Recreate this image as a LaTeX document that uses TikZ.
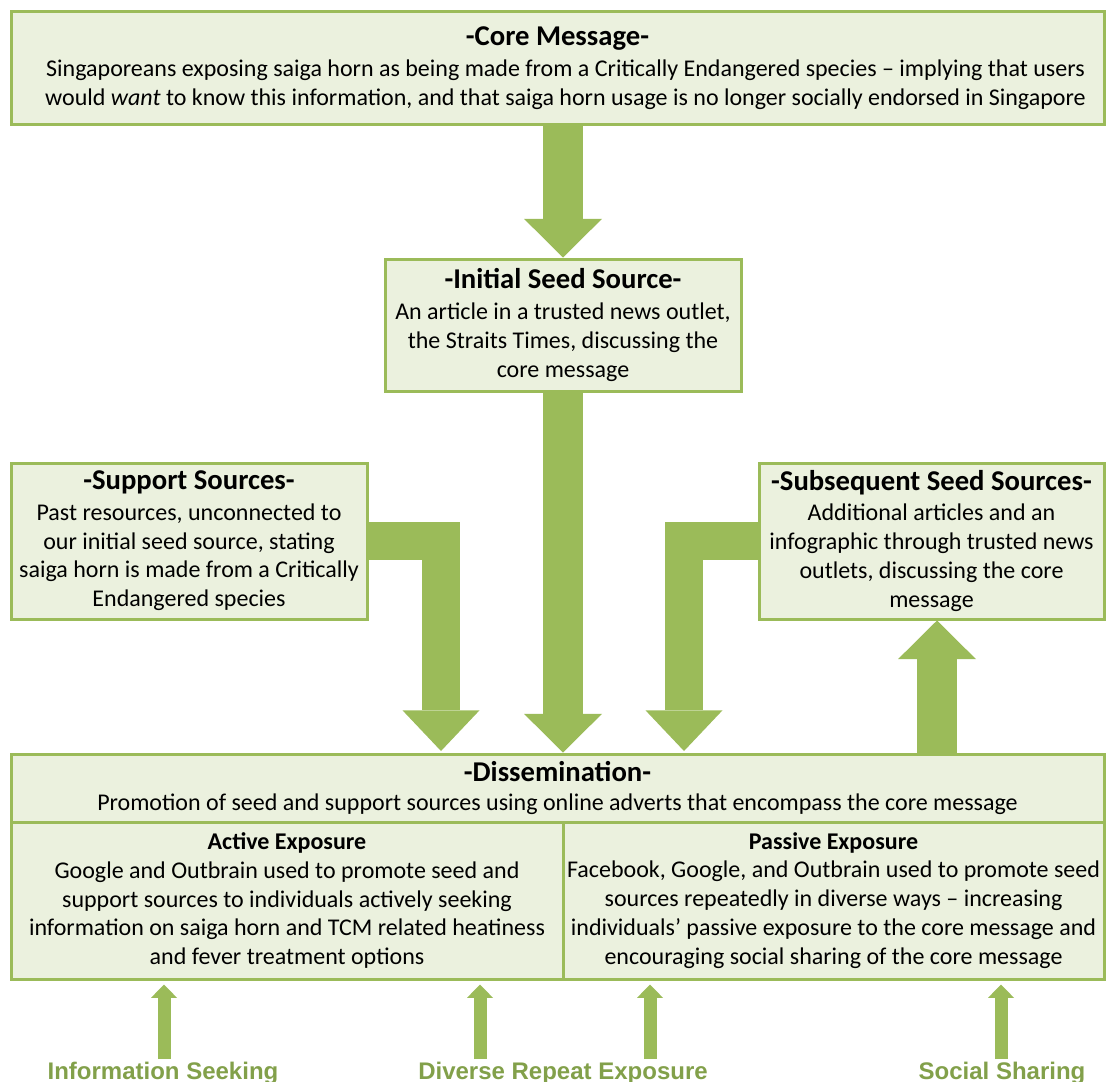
\documentclass[tikz,border=0pt]{standalone}
\usepackage{fontspec}
\setmainfont{Carlito}
\newfontfamily\labelfont{Liberation Sans}
\usetikzlibrary{positioning}
\usetikzlibrary{arrows.meta}
\definecolor{olive}{HTML}{9BBB59}
\definecolor{palegreen}{HTML}{EBF1DE}
\definecolor{darkolive}{HTML}{82A04A}
\newcommand{\headline}[1]{{\fontsize{21.5}{24}\selectfont\bfseries #1}}
\tikzset{bigarrow/.style={draw=olive, line width=30pt, line join=miter, -{Triangle[width=58.5pt, length=29pt, line width=0pt]}}}
\tikzset{elbowarrow/.style={draw=olive, line width=28.5pt, line join=miter, -{Triangle[width=57.75pt, length=30.5pt, line width=0pt]}}}
\tikzset{smallarrow/.style={draw=olive, line width=9.75pt, -{Triangle[width=19.5pt, length=10pt, line width=0pt]}}}

\begin{document}
\begin{tikzpicture}[x=0.75pt, y=-0.75pt, box/.style={rectangle, draw=olive, fill=palegreen, line width=2.25pt, align=center, inner sep=0pt, font=\fontsize{18}{21.7}\selectfont}, sidelabel/.style={text=darkolive, font=\labelfont\fontsize{18}{20}\selectfont\bfseries, anchor=base}]
    \useasboundingbox (0,0) rectangle (1107,1082);

    %Nodes
    \node[box, minimum width=1093*0.75pt, minimum height=113*0.75pt](core) at (557.5,68){\headline{-Core Message-}\\[1.5pt] \hspace*{12pt}Singaporeans exposing saiga horn as being made from a Critically Endangered species -- implying that users\\ \hspace*{12pt}would \textit{want} to know this information, and that saiga horn usage is no longer socially endorsed in Singapore};
    \node[box, minimum width=356*0.75pt, minimum height=132*0.75pt](initial) at (563,325){\headline{-Initial Seed Source-}\\[1.5pt] An article in a trusted news outlet,\\ the Straits Times, discussing the\\ core message};
    \node[box, minimum width=356*0.75pt, minimum height=156*0.75pt](support) at (189,541){\headline{-Support Sources-}\\[1pt] Past resources, unconnected to\\ our initial seed source, stating\\ saiga horn is made from a Critically\\ Endangered species};
    \node[box, minimum width=345*0.75pt, minimum height=156*0.75pt](subseq) at (931.5,541){\headline{-Subsequent Seed Sources-}\\[1pt] Additional articles and an\\ infographic through trusted news\\ outlets, discussing the core\\ message};
    \node[box, minimum width=1093*0.75pt, minimum height=68*0.75pt](dissem) at (557.5,788){\headline{-Dissemination-}\\ Promotion of seed and support sources using online adverts that encompass the core message};
    \node[box, minimum width=552*0.75pt, minimum height=157*0.75pt](active) at (287,900.5){\textbf{Active Exposure}\\ Google and Outbrain used to promote seed and\\ support sources to individuals actively seeking\\ information on saiga horn and TCM related heatiness\\ and fever treatment options};
    \node[box, minimum width=541*0.75pt, minimum height=157*0.75pt](passive) at (833.5,900.5){\textbf{Passive Exposure}\\ Facebook, Google, and Outbrain used to promote seed\\ sources repeatedly in diverse ways -- increasing\\ individuals’ passive exposure to the core message and\\ encouraging social sharing of the core message};
    \node[sidelabel](seeking) at (163,1079){Information Seeking};
    \node[sidelabel](repeat) at (563,1079){Diverse Repeat Exposure};
    \node[sidelabel](sharing) at (1002,1079){Social Sharing};
    \coordinate (tipL) at (441,751);
    \coordinate (tipR) at (684,751);
    \coordinate (upfoot) at (937,753);
    \coordinate (seekfoot) at (164,1059);
    \coordinate (repfootA) at (480,1059);
    \coordinate (repfootB) at (650,1059);
    \coordinate (sharefoot) at (1001,1059);

    %Lines
    \draw[bigarrow] (initial.north |- core.south) -- (initial.north);
    \draw[bigarrow] (initial.south) -- (initial.south |- dissem.north);
    \draw[elbowarrow] (support.east) -| (tipL);
    \draw[elbowarrow] (subseq.west) -| (tipR);
    \draw[bigarrow] (upfoot) -- (upfoot |- subseq.south);
    \draw[smallarrow, shorten >=3pt] (seekfoot) -- (seekfoot |- active.south);
    \draw[smallarrow, shorten >=3pt] (repfootA) -- (repfootA |- active.south);
    \draw[smallarrow, shorten >=3pt] (repfootB) -- (repfootB |- passive.south);
    \draw[smallarrow, shorten >=3pt] (sharefoot) -- (sharefoot |- passive.south);

\end{tikzpicture}
\end{document}
